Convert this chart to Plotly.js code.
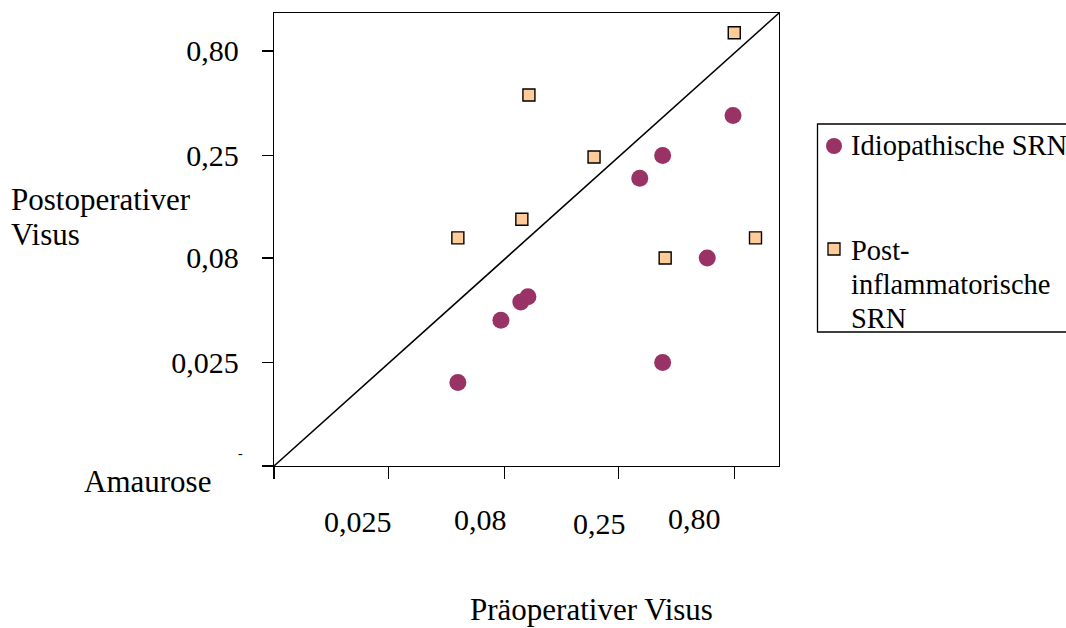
<!DOCTYPE html>
<html>
<head>
<meta charset="utf-8">
<script src="https://cdn.plot.ly/plotly-3.0.1.min.js"></script>
<style>
  html, body { margin: 0; padding: 0; background: #fff; }
  #chart { width: 1066px; height: 628px; }
</style>
</head>
<body>
<div id="chart"></div>
<script>
// ---- data (visual acuity, decimal) ----
const seriesNames = ["Idiopathische SRN", "Post-inflammatorische SRN"];
const idioPre  = [0.05, 0.077, 0.094, 0.101, 0.31, 0.39, 0.39, 0.61, 0.79];
const idioPost = [0.02, 0.04, 0.049, 0.052, 0.194, 0.25, 0.025, 0.08, 0.39];
const postPre  = [0.05, 0.095, 0.102, 0.196, 0.40, 0.80, 0.99];
const postPost = [0.10, 0.123, 0.49, 0.246, 0.08, 0.98, 0.10];
const tickValues = [0.025, 0.08, 0.25, 0.80];
const tickLabels = ["0,025", "0,08", "0,25", "0,80"];
const amauroseValue = Math.pow(10, -2.1015);
const amauroseLabel = "Amaurose";
const xTitle = "Präoperativer Visus";
const yTitleLines = ["Postoperativer", "Visus"];
const legendLines = [["Idiopathische SRN"], ["Post-", "inflammatorische", "SRN"]];

// ---- layout helpers (pixel -> paper) ----
const L = 274, T = 13, W = 505, H = 453;
const px = x => (x - L) / W;
const py = y => (T + H - y) / H;
const FONT = "Liberation Serif";
const FS = 30;

const traces = [
  {
    type: "scatter", mode: "markers", name: seriesNames[0],
    x: idioPre, y: idioPost, showlegend: false, cliponaxis: false,
    marker: { symbol: "circle", size: 17, color: "#993366", line: { width: 0 } }
  },
  {
    type: "scatter", mode: "markers", name: seriesNames[1],
    x: postPre, y: postPost, showlegend: false, cliponaxis: false,
    marker: { symbol: "square", size: 12, color: "#FFCC99", line: { width: 1.4, color: "#000" } }
  }
];

const annotations = [];
function txt(text, x, y, xanchor, size) {
  annotations.push({
    xref: "paper", yref: "paper", x: px(x), y: py(y), text: text,
    showarrow: false, xanchor: xanchor, yanchor: "middle",
    font: { family: FONT, size: size || FS, color: "#000" }
  });
}
// x tick labels (offset as in the original)
const xLabelPos = [[357.5, 521], [480, 519], [599, 523], [694, 518]];
tickLabels.forEach((t, i) => txt(t, xLabelPos[i][0], xLabelPos[i][1], "center"));
txt(xTitle, 591, 609, "center", 31);
txt(yTitleLines[0], 9, 199, "left", 31);
txt(yTitleLines[1], 9, 234, "left", 31);
txt(amauroseLabel, 147, 481, "center", 31);
txt("-", 240, 453, "center", 14);
// legend text
txt(legendLines[0][0], 849, 146, "left", 28.5);
txt(legendLines[1][0], 849, 250, "left", 28.5);
txt(legendLines[1][1], 849, 284, "left", 28.5);
txt(legendLines[1][2], 849, 318, "left", 28.5);

const shapes = [
  // diagonal
  { type: "line", xref: "paper", yref: "paper", x0: 0, y0: 0, x1: 1, y1: 1,
    line: { color: "#000", width: 1.6 } },
  // legend box
  { type: "rect", xref: "paper", yref: "paper", x0: px(817.5), x1: px(1090), y0: py(332), y1: py(124),
    line: { color: "#000", width: 1.3 }, fillcolor: "rgba(0,0,0,0)" },
  // legend markers
  { type: "circle", xref: "paper", yref: "paper", xsizemode: "pixel", ysizemode: "pixel",
    xanchor: px(834), yanchor: py(146), x0: -8, x1: 8, y0: -8, y1: 8,
    fillcolor: "#993366", line: { width: 0 } },
  { type: "rect", xref: "paper", yref: "paper", xsizemode: "pixel", ysizemode: "pixel",
    xanchor: px(834), yanchor: py(249), x0: -6, x1: 6, y0: -6, y1: 6,
    fillcolor: "#FFCC99", line: { width: 1.3, color: "#000" } }
];

const axisCommon = {
  type: "log", showgrid: false, zeroline: false,
  showline: true, mirror: true, linecolor: "#000", linewidth: 1.3,
  ticks: "outside", tickcolor: "#000", tickwidth: 1.3,
  tickmode: "array"
};

const layout = {
  width: 1066, height: 628,
  margin: { l: L, r: 1066 - L - W, t: T, b: 628 - T - H, pad: 0 },
  paper_bgcolor: "#fff", plot_bgcolor: "#fff",
  showlegend: false,
  font: { family: FONT, color: "#000" },
  xaxis: Object.assign({}, axisCommon, {
    range: [-2.102, 0.098], ticklen: 12,
    tickvals: [amauroseValue].concat(tickValues),
    ticktext: [""].concat(tickValues.map(() => "")),
    showticklabels: false
  }),
  yaxis: Object.assign({}, axisCommon, {
    range: [-2.102, 0.0865], ticklen: 11,
    tickvals: [amauroseValue].concat(tickValues),
    ticktext: [""].concat(tickLabels),
    ticklabelstandoff: 17,
    tickfont: { family: FONT, size: FS, color: "#000" }
  }),
  annotations: annotations,
  shapes: shapes
};

Plotly.newPlot("chart", traces, layout, { displayModeBar: false, staticPlot: true });
</script>
</body>
</html>
